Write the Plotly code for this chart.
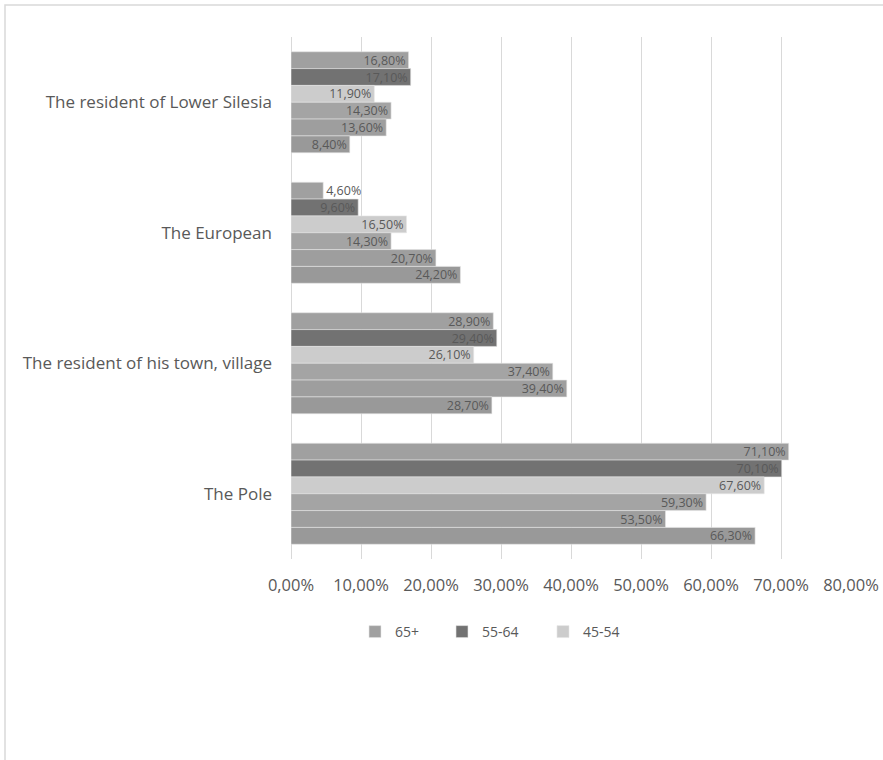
import plotly.graph_objects as go

categories = ["The resident of Lower Silesia", "The European",
              "The resident of his town, village", "The Pole"]
series_names = ["65+", "55-64", "45-54", "35-44", "25-34", "18-24"]
v_65 = [16.8, 4.6, 28.9, 71.1]
v_55_64 = [17.1, 9.6, 29.4, 70.1]
v_45_54 = [11.9, 16.5, 26.1, 67.6]
v_35_44 = [14.3, 14.3, 37.4, 59.3]
v_25_34 = [13.6, 20.7, 39.4, 53.5]
v_18_24 = [8.4, 24.2, 28.7, 66.3]
series_values = [v_65, v_55_64, v_45_54, v_35_44, v_25_34, v_18_24]
colors = ["#a0a0a0", "#727272", "#cccccc", "#a4a4a4", "#9e9e9e", "#999999"]
legend_ids = ["legend", "legend2", "legend3", None, None, None]
x_ticks = [0, 0.1, 0.2, 0.3, 0.4, 0.5, 0.6, 0.7, 0.8]

W, H = 883, 760
L, R, T, B = 291, 32, 37, 201
pw, ph = W - L - R, H - T - B

fig = go.Figure()
for name, vals, col, leg in zip(series_names, series_values, colors, legend_ids):
    kw = dict(legend=leg, showlegend=True) if leg else dict(showlegend=False)
    # short bars: label would not fit inside -> put it just outside the bar end
    positions = ["inside" if v >= 7 else "outside" for v in vals]
    fig.add_trace(go.Bar(
        y=categories, x=[v / 100 for v in vals], name=name, orientation="h",
        marker=dict(color=col, line=dict(color="#e6e6e6", width=0.6)),
        text=[f"{v:.2f}".replace(".", ",") + "%" for v in vals],
        textposition=positions, insidetextanchor="end", textangle=0,
        constraintext="none", cliponaxis=False,
        textfont=dict(family="Open Sans", size=12.5, color="#595959"),
        **kw,
    ))

def px_x(p):
    return (p - L) / pw

def px_y(p):
    return (T + ph - p) / ph

leg_common = dict(orientation="h", yanchor="middle", xanchor="left",
                  font=dict(size=14, color="#595959"), itemwidth=30,
                  bgcolor="rgba(0,0,0,0)")
legend_x = [371 - 16, 458 - 16, 559 - 16]

fig.update_layout(
    width=W, height=H,
    margin=dict(l=L, r=R, t=T, b=B, pad=0, autoexpand=False),
    barmode="group", bargap=0.226, bargroupgap=0,
    separators=",.",
    paper_bgcolor="white", plot_bgcolor="white",
    font=dict(family="Open Sans", size=13, color="#595959"),
    xaxis=dict(range=[0, 0.8], tickvals=x_ticks, tickformat=".2%",
               automargin=False,
               showgrid=True, gridcolor="#d9d9d9", gridwidth=1,
               zeroline=True, zerolinecolor="#d9d9d9", zerolinewidth=1,
               showline=False, ticks="", ticklabelstandoff=14,
               tickfont=dict(size=16.5, color="#595959")),
    yaxis=dict(autorange="reversed", showgrid=False, showline=False,
               automargin=False,
               ticks="", ticklabelstandoff=18,
               tickfont=dict(size=17, color="#595959")),
    legend=dict(x=px_x(legend_x[0]), y=px_y(632), **leg_common),
    legend2=dict(x=px_x(legend_x[1]), y=px_y(632), **leg_common),
    legend3=dict(x=px_x(legend_x[2]), y=px_y(632), **leg_common),
    shapes=[dict(type="rect", xref="paper", yref="paper",
                 x0=px_x(5), x1=px_x(W + 20),
                 y0=px_y(H + 20), y1=px_y(5),
                 line=dict(color="#d9d9d9", width=1.5), fillcolor="rgba(0,0,0,0)",
                 layer="below")],
)

fig.write_html("out.html")
